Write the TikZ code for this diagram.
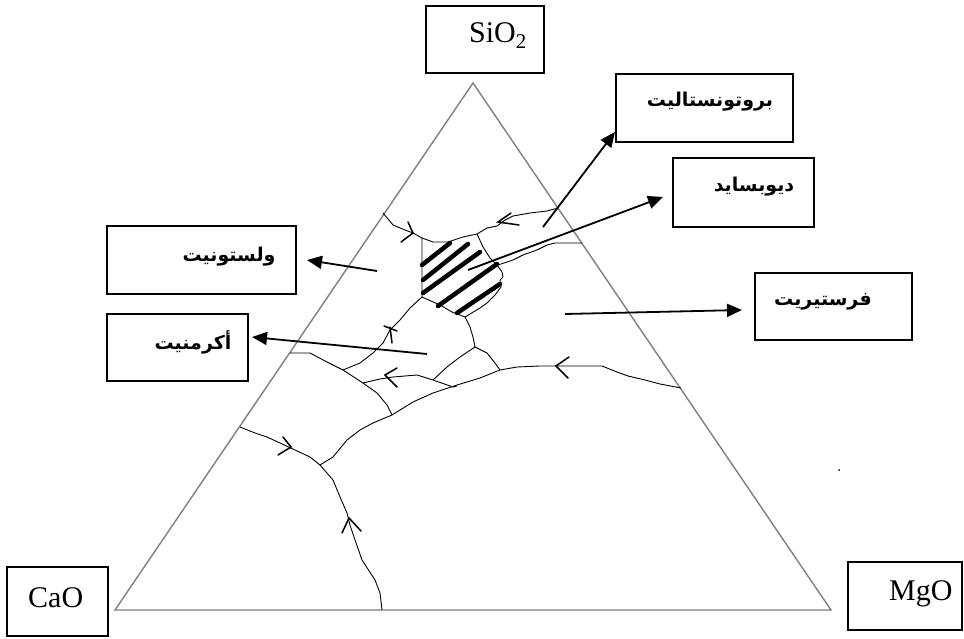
\documentclass[tikz,border=0pt]{standalone}
\usepackage{fontspec}
\setmainfont{Liberation Serif}
\newfontfamily\arabicfont[Script=Arabic, BoldFont={DejaVu Sans Bold}]{DejaVu Sans}
\TeXXeTstate=1
\usetikzlibrary{arrows.meta}
\begin{document}
\begin{tikzpicture}[x=1pt,y=-1pt,
  edge/.style={draw=black!50, line width=1.4pt},
  bnd/.style={draw=black, line width=0.9pt, line join=round},
  chev/.style={draw=black, line width=1.5pt, line cap=round},
  hatch/.style={draw=black, line width=4.5pt, line cap=round},
  box/.style={draw=black, line width=1.6pt, rectangle, inner sep=0pt},
  lbl/.style={font=\fontsize{30}{32}\selectfont, inner sep=0pt},
  albl/.style={font=\arabicfont\bfseries\fontsize{19}{21}\selectfont, inner sep=0pt},
  arr/.style={draw=black, line width=1.8pt, -{Triangle[length=15pt,width=13pt]}}
]
\useasboundingbox[fill=white] (0,0) rectangle (964,639);

% triangle
\coordinate (A) at (473,83);
\coordinate (B) at (115,610);
\coordinate (C) at (831,610);
\draw[edge] (A) -- (B) -- (C) -- cycle;

% boxes
\node[box, minimum width=118pt, minimum height=67pt] (bSi) at (485,39.5) {};
\node[box, minimum width=101pt, minimum height=69pt] (bCa) at (57.5,601.5) {};
\node[box, minimum width=114pt, minimum height=68pt] (bMg) at (905,596) {};
\node[box, minimum width=177pt, minimum height=68pt] (bPr) at (704.5,108) {};
\node[box, minimum width=141pt, minimum height=69pt] (bDi) at (743.5,192.5) {};
\node[box, minimum width=189pt, minimum height=68pt] (bWo) at (201.5,260) {};
\node[box, minimum width=141pt, minimum height=67pt] (bAk) at (177.5,347.5) {};
\node[box, minimum width=157pt, minimum height=67pt] (bFo) at (833.5,306.5) {};

% texts
\node[lbl, anchor=base west] (tSi) at (469,43) {SiO\textsubscript{2}};
\node[lbl, anchor=base west] (tCa) at (28,607) {CaO};
\node[lbl, anchor=base west] (tMg) at (889,600) {MgO};
\node[albl] (tPr) at (710,102) {\beginR بروتونستاليت\endR};
\node[albl] (tDi) at (754,187) {\beginR ديوبسايد\endR};
\node[albl] (tWo) at (229,257) {\beginR ولستونيت\endR};
\node[albl] (tAk) at (193,342) {\beginR أكرمنيت\endR};
\node[albl] (tFo) at (823,302) {\beginR فرستيريت\endR};

% hatched region
\draw[bnd] (422,238) -- (433,242) -- (448,242) -- (463,237) -- (477,234) -- (483,247) -- (490,258)
  -- (497,265) -- (502,272) -- (503,277) -- (500,280) -- (501,287) -- (495,295) -- (487,303)
  -- (480,308) -- (465,317) -- (452,312) -- (440,305) -- (422,297) -- cycle;
\draw[hatch] (422,265) -- (450,243);
\draw[hatch] (423,280) -- (468,244);
\draw[hatch] (423,293) -- (480,252);
\draw[hatch] (438,306) -- (497,264);
\draw[hatch] (457,313) -- (500,284);

% boundary curves
\draw[bnd] (383,213) -- (393,225) -- (405,230) -- (413,233) -- (422,238);
\draw[bnd] (477,234) -- (487,228) -- (497,226) -- (505,220) -- (513,216) -- (530,213) -- (547,211) -- (558,208);
\draw[bnd] (498,265) -- (513,260) -- (523,255) -- (537,250) -- (547,245) -- (555,243) -- (582,243);
\draw[bnd] (465,317) -- (470,327) -- (473,337) -- (475,347);
\draw[bnd] (475,347) -- (487,353) -- (495,363) -- (500,370);
\draw[bnd] (475,347) -- (460,357) -- (447,367) -- (433,380);
\draw[bnd] (363,383) -- (380,379) -- (393,377) -- (417,375) -- (433,380) -- (453,387) -- (457,386);
\draw[bnd] (290,353) -- (310,353) -- (327,362) -- (343,370) -- (363,383) -- (377,393) -- (387,405) -- (392,415);
\draw[bnd] (422,297) -- (410,308) -- (400,320) -- (390,330) -- (383,343) -- (373,353) -- (360,363) -- (343,370);
\draw[bnd] (681,388) -- (660,384) -- (645,380) -- (628,376) -- (617,372) -- (602,366) -- (580,366)
  -- (540,366) -- (517,367) -- (500,370) -- (480,378) -- (457,385) -- (433,393) -- (413,402)
  -- (392,415) -- (373,423) -- (360,430) -- (347,440) -- (333,457) -- (320,465);
\draw[bnd] (240,427) -- (255,433) -- (267,437) -- (280,443) -- (295,450) -- (310,457) -- (320,465);
\draw[bnd] (320,465) -- (333,480) -- (340,497) -- (347,513) -- (350,525) -- (355,540) -- (362,560)
  -- (375,580) -- (380,593) -- (382,610);

% direction marks
\draw[chev] (408,222) -- (413,233) -- (401,242);
\draw[chev] (511,213) -- (498,222) -- (519,225);
\draw[chev] (384,326) -- (397,331);
\draw[chev] (390,327) -- (392,343);
\draw[chev] (397,368) -- (385,375) -- (397,387);
\draw[chev] (569,357) -- (556,366) -- (568,378);
\draw[chev] (283,437) -- (291,447) -- (278,455);
\draw[chev] (342,533) -- (349,518) -- (361,531);

% stray dot
\fill (839,470) circle (1);

% arrows
\coordinate (sPr) at (543,227); \coordinate (ePr) at (615,132);
\coordinate (sDi) at (468,270); \coordinate (eDi) at (663,197);
\coordinate (sWo) at (377,271); \coordinate (eWo) at (307,260);
\coordinate (sAk) at (427,354); \coordinate (eAk) at (252,337);
\coordinate (sFo) at (565,314); \coordinate (eFo) at (742,310);
\draw[arr] (sPr) -- (ePr);
\draw[arr] (sDi) -- (eDi);
\draw[arr] (sWo) -- (eWo);
\draw[arr] (sAk) -- (eAk);
\draw[arr] (sFo) -- (eFo);
\end{tikzpicture}
\end{document}
